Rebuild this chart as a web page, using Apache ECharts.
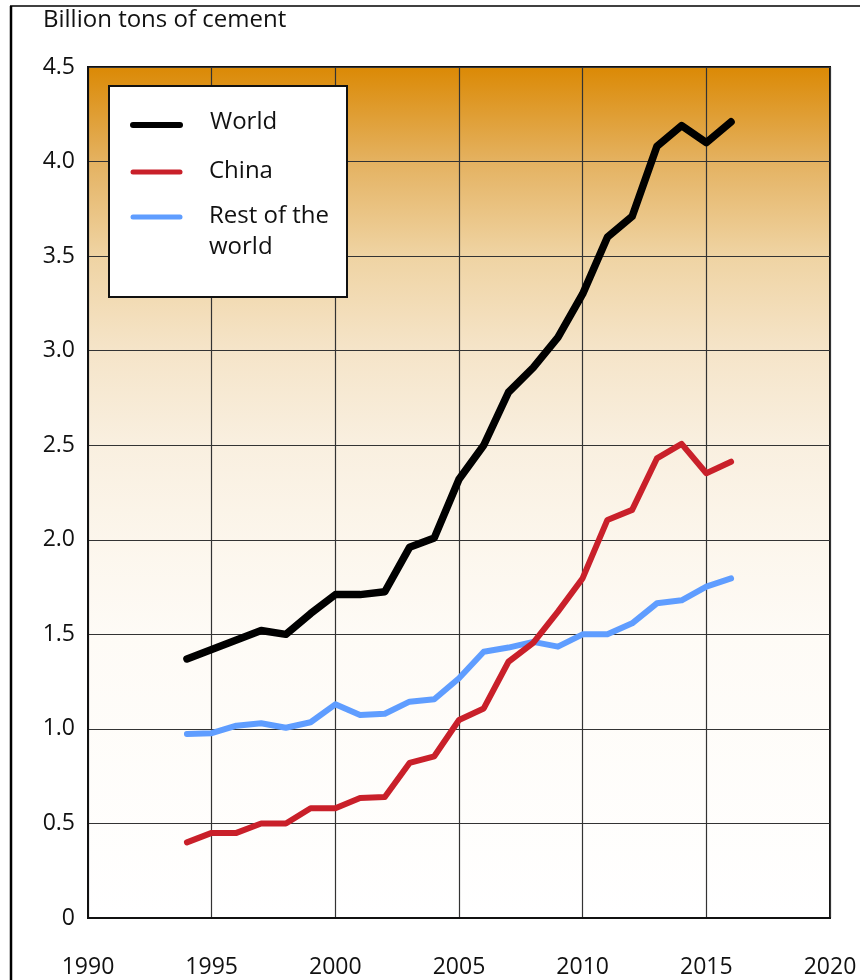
<!DOCTYPE html>
<html>
<head>
<meta charset="utf-8">
<script src="https://cdn.jsdelivr.net/npm/echarts@6/dist/echarts.min.js"></script>
<style>
  html, body { margin: 0; padding: 0; background: #fff; }
  #chart { width: 860px; height: 980px; }
</style>
</head>
<body>
<div id="chart"></div>
<script>
var years = [1994, 1995, 1996, 1997, 1998, 1999, 2000, 2001, 2002, 2003, 2004, 2005,
             2006, 2007, 2008, 2009, 2010, 2011, 2012, 2013, 2014, 2015, 2016];
var world = [1.37, 1.42, 1.47, 1.52, 1.50, 1.61, 1.71, 1.71, 1.725, 1.96, 2.01, 2.32,
             2.50, 2.78, 2.91, 3.07, 3.30, 3.60, 3.71, 4.08, 4.19, 4.10, 4.21];
var china = [0.40, 0.45, 0.45, 0.50, 0.50, 0.58, 0.58, 0.635, 0.64, 0.82, 0.855, 1.047,
             1.108, 1.355, 1.455, 1.62, 1.797, 2.105, 2.158, 2.43, 2.507, 2.352, 2.413];
var rest  = [0.973, 0.977, 1.017, 1.03, 1.006, 1.035, 1.13, 1.073, 1.08, 1.144, 1.157, 1.268,
             1.408, 1.43, 1.46, 1.435, 1.50, 1.50, 1.558, 1.664, 1.68, 1.752, 1.796];
var seriesNames = ['World', 'China', 'Rest of the world'];
var seriesColors = ['#000000', '#c9202a', '#5f9dff'];

var font = '"Open Sans", "Noto Sans", sans-serif';

function pairs(vals) {
  return years.map(function (y, i) { return [y, vals[i]]; });
}

var chart = echarts.init(document.getElementById('chart'));

var option = {
  animation: false,
  backgroundColor: '#ffffff',
  textStyle: { fontFamily: font },
  grid: {
    left: 88, right: 30, top: 67, bottom: 62,
    show: true,
    borderColor: '#111',
    borderWidth: 2,
    backgroundColor: {
      type: 'linear', x: 0, y: 0, x2: 0, y2: 1,
      colorStops: [
        { offset: 0, color: '#db8904' },
        { offset: 0.11, color: '#e4b15f' },
        { offset: 0.22, color: '#efd3a2' },
        { offset: 0.33, color: '#f5e4c8' },
        { offset: 0.44, color: '#f9efdf' },
        { offset: 0.556, color: '#fcf6ec' },
        { offset: 0.667, color: '#fefbf6' },
        { offset: 1, color: '#ffffff' }
      ]
    }
  },
  xAxis: {
    type: 'value',
    min: 1990, max: 2020, interval: 5,
    axisLine: { show: true, lineStyle: { color: '#111', width: 2 } },
    axisTick: { show: false },
    splitLine: { show: true, lineStyle: { color: '#333', width: 1.2 } },
    axisLabel: {
      color: '#111', fontSize: 23, margin: 38, fontFamily: font,
      formatter: function (v) { return String(v); }
    }
  },
  yAxis: {
    type: 'value',
    min: 0, max: 4.5, interval: 0.5,
    axisLine: { show: true, lineStyle: { color: '#111', width: 2 } },
    axisTick: { show: false },
    splitLine: { show: true, lineStyle: { color: '#333', width: 1.2 } },
    axisLabel: {
      color: '#111', fontSize: 23, margin: 13, fontFamily: font,
      formatter: function (v) { return v === 0 ? '0' : v.toFixed(1); }
    }
  },
  series: [
    { name: seriesNames[0], type: 'line', data: pairs(world), symbol: 'none',
      lineStyle: { color: seriesColors[0], width: 7.5, cap: 'round', join: 'round' }, z: 4 },
    { name: seriesNames[1], type: 'line', data: pairs(china), symbol: 'none',
      lineStyle: { color: seriesColors[1], width: 6, cap: 'round', join: 'round' }, z: 3 },
    { name: seriesNames[2], type: 'line', data: pairs(rest), symbol: 'none',
      lineStyle: { color: seriesColors[2], width: 6, cap: 'round', join: 'round' }, z: 2 }
  ],
  graphic: [
    // outer frame
    { type: 'line', shape: { x1: 10, y1: 6, x2: 860, y2: 6 }, style: { stroke: '#000', lineWidth: 1.5 } },
    { type: 'line', shape: { x1: 11, y1: 6, x2: 11, y2: 980 }, style: { stroke: '#000', lineWidth: 2.5 } },
    // axis title
    { type: 'text', left: 43, top: 8,
      style: { text: 'Billion tons of cement', font: '24px ' + font, fill: '#111' } },
    // legend box
    { type: 'rect', shape: { x: 109, y: 86, width: 238, height: 211 },
      style: { fill: '#ffffff', stroke: '#111', lineWidth: 2 }, z: 10 },
    { type: 'line', shape: { x1: 133, y1: 125, x2: 180, y2: 125 },
      style: { stroke: seriesColors[0], lineWidth: 6, lineCap: 'round' }, z: 11 },
    { type: 'line', shape: { x1: 133, y1: 172, x2: 180, y2: 172 },
      style: { stroke: seriesColors[1], lineWidth: 5, lineCap: 'round' }, z: 11 },
    { type: 'line', shape: { x1: 133, y1: 217, x2: 180, y2: 217 },
      style: { stroke: seriesColors[2], lineWidth: 5, lineCap: 'round' }, z: 11 },
    { type: 'text', x: 210, y: 122, z: 11,
      style: { text: 'World', font: '24px ' + font, fill: '#111', verticalAlign: 'middle' } },
    { type: 'text', x: 209, y: 171, z: 11,
      style: { text: 'China', font: '24px ' + font, fill: '#111', verticalAlign: 'middle' } },
    { type: 'text', x: 209, y: 216, z: 11,
      style: { text: 'Rest of the', font: '24px ' + font, fill: '#111', verticalAlign: 'middle' } },
    { type: 'text', x: 209, y: 247, z: 11,
      style: { text: 'world', font: '24px ' + font, fill: '#111', verticalAlign: 'middle' } }
  ]
};

chart.setOption(option);
</script>
</body>
</html>
